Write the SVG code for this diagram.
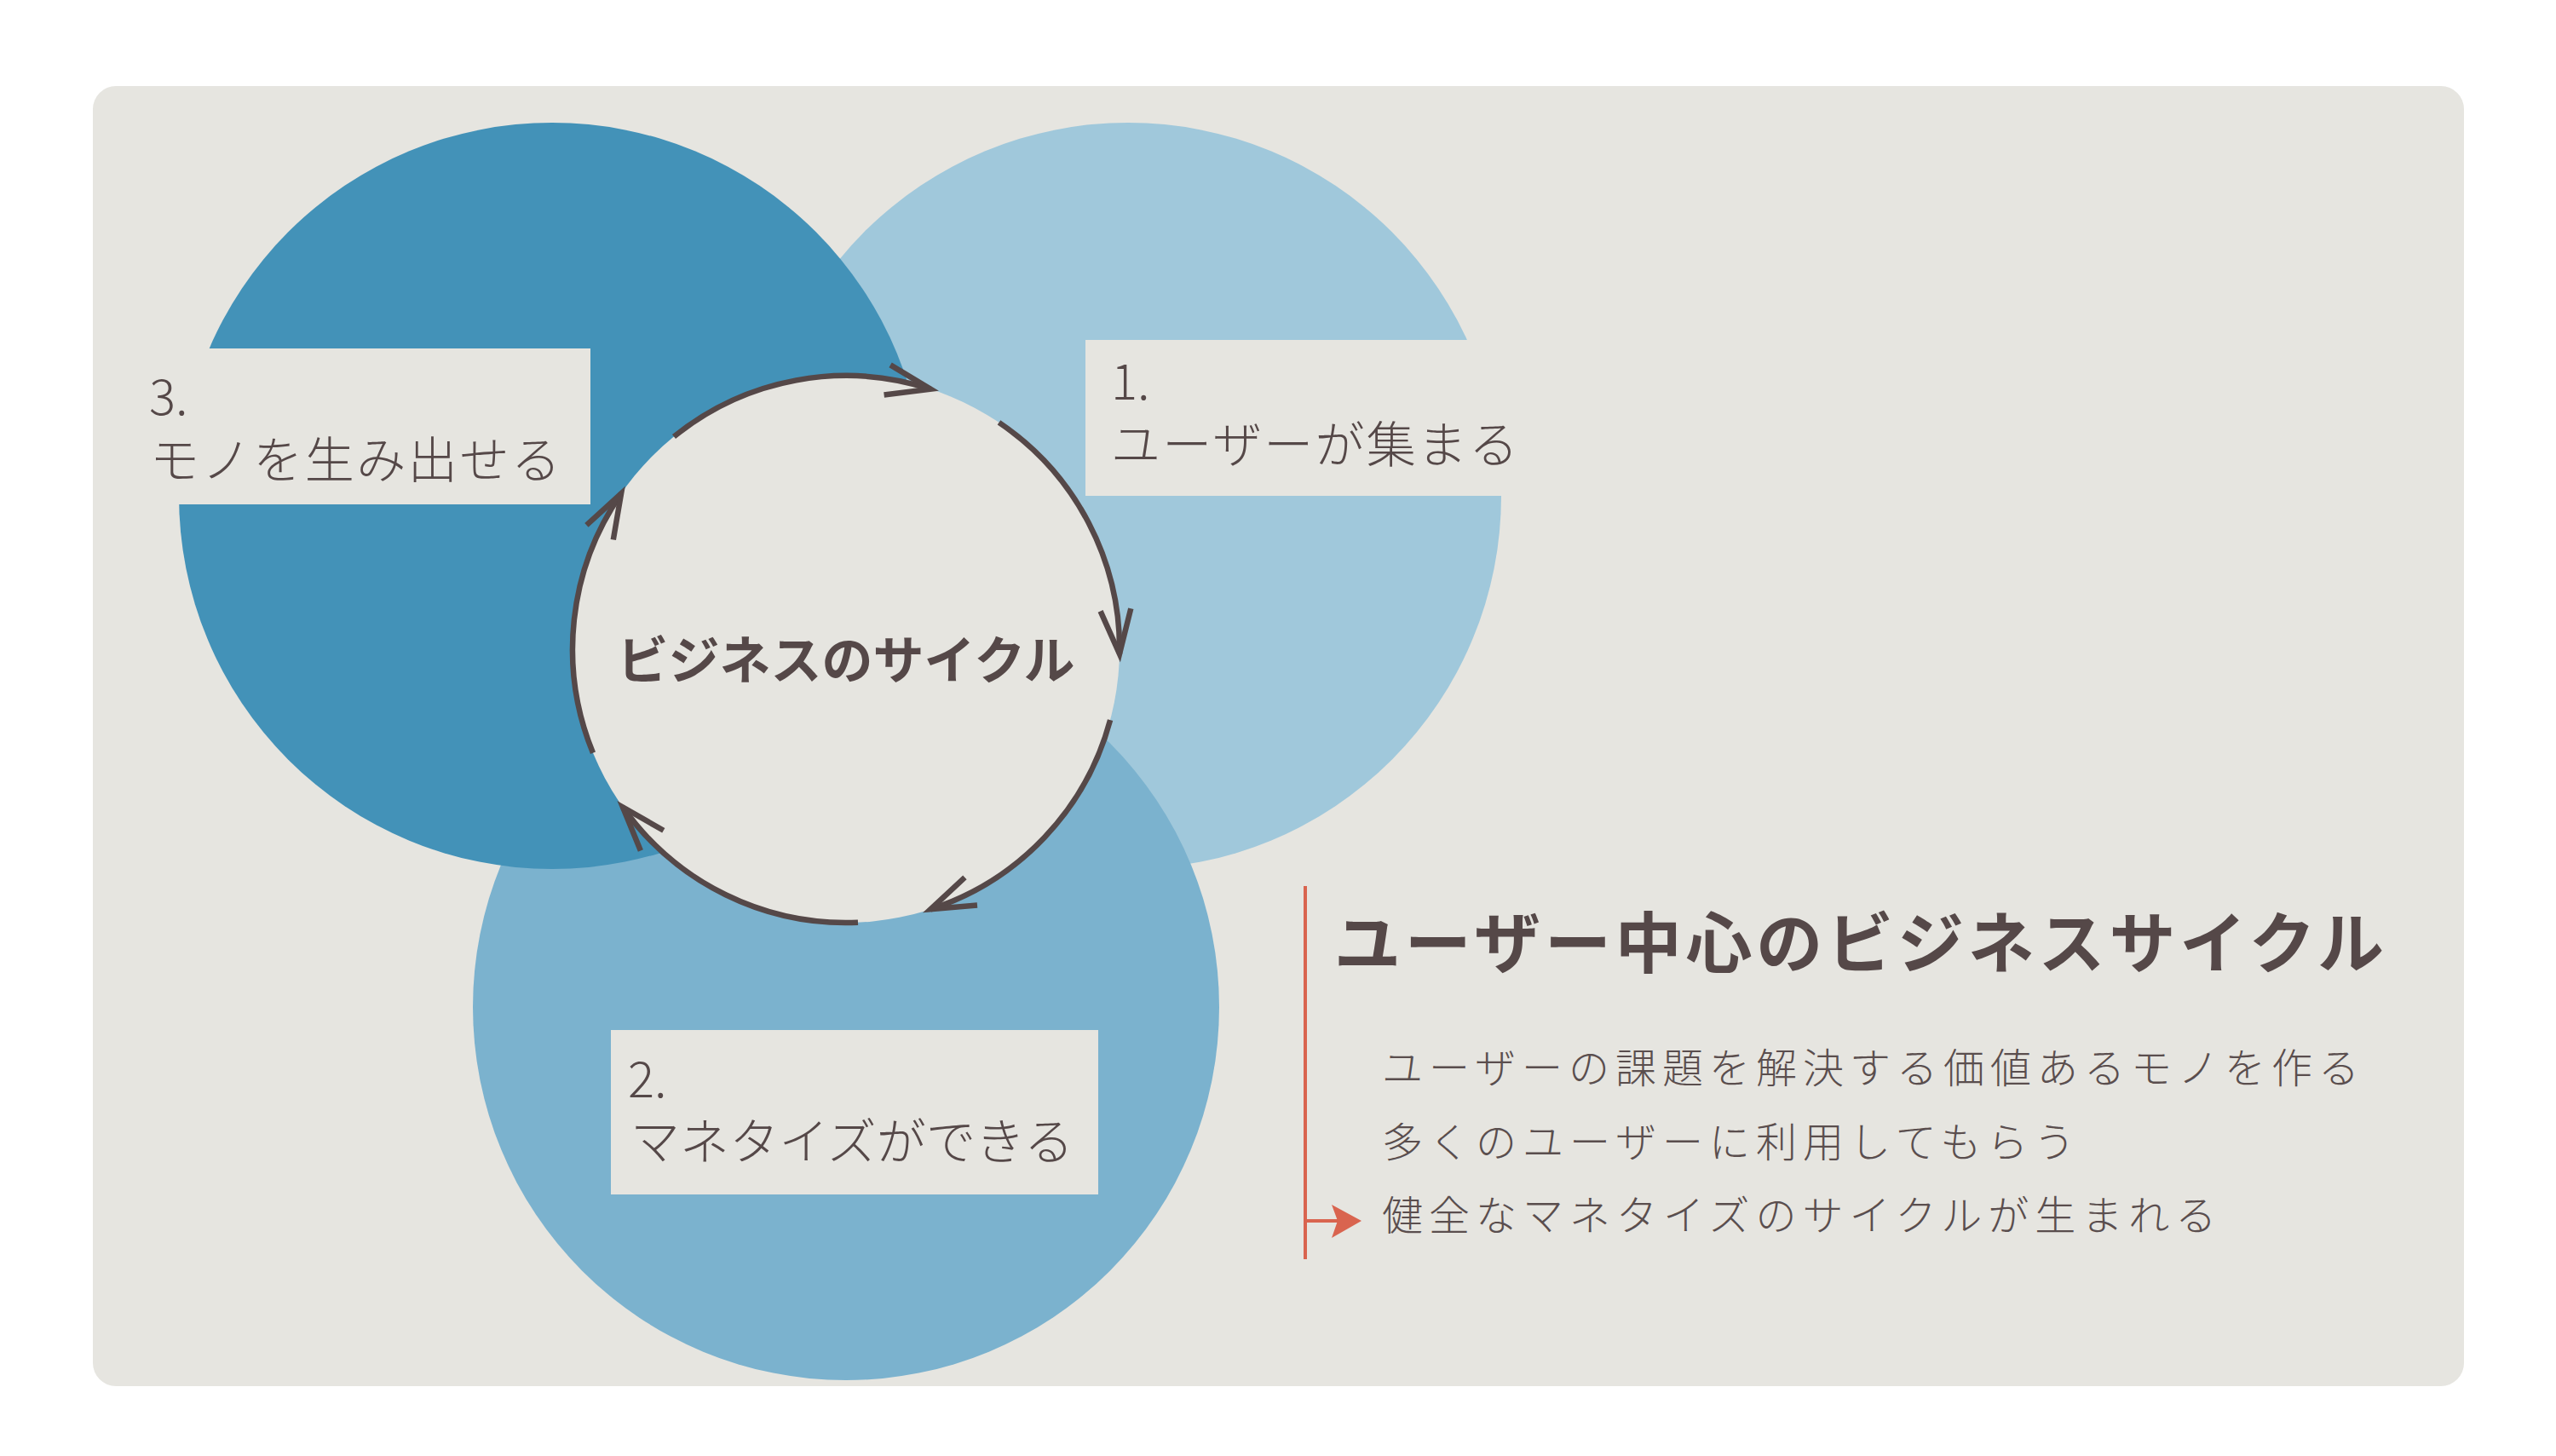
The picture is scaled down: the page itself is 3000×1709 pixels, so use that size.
<svg xmlns="http://www.w3.org/2000/svg" width="3000" height="1709" viewBox="0 0 3000 1709">
  <defs>
    <style>
      .bg { fill: #e6e5e0; }
      .lbl { font-family: "Noto Sans CJK JP", "Noto Sans", sans-serif; font-weight: 300; font-size: 58px; fill: #554848; }
      .ctr { font-family: "Noto Sans CJK JP", "Noto Sans", sans-serif; font-weight: 700; font-size: 60px; fill: #554848; }
      .ttl { font-family: "Noto Sans CJK JP", "Noto Sans", sans-serif; font-weight: 700; font-size: 78px; fill: #554848; }
      .body { font-family: "Noto Sans CJK JP", "Noto Sans", sans-serif; font-weight: 300; font-size: 48px; fill: #5a4e4e; letter-spacing: 7px; }
      .arc { fill: none; stroke: #554848; stroke-width: 6.5; stroke-linecap: butt; stroke-linejoin: miter; }
      .accent { stroke: #d9644f; stroke-width: 4; fill: none; }
    </style>
  </defs>

  <rect id="panel" class="bg" x="109" y="101" width="2783" height="1526" rx="27" ry="27"/>

  <g id="node-1">
    <circle cx="1324" cy="582" r="438" fill="#a0c8db"/>
    <rect class="bg" x="1274" y="399" width="526" height="183"/>
    <text class="lbl" x="1304" y="469">1.</text>
    <text class="lbl" x="1304" y="543" textLength="478">ユーザーが集まる</text>
  </g>

  <g id="node-2">
    <circle cx="993" cy="1182" r="438" fill="#7bb2ce"/>
    <rect class="bg" x="717" y="1209" width="572" height="193"/>
    <text class="lbl" x="737" y="1288">2.</text>
    <text class="lbl" x="740" y="1361" textLength="520">マネタイズができる</text>
  </g>

  <g id="node-3">
    <circle cx="648" cy="582" r="438" fill="#4392b8"/>
    <rect class="bg" x="160" y="409" width="533" height="183"/>
    <text class="lbl" x="175" y="487">3.</text>
    <text class="lbl" x="176" y="561" textLength="482">モノを生み出せる</text>
  </g>

  <g id="center">
    <circle class="bg" cx="993" cy="762" r="321"/>
    <text class="ctr" x="993" y="797" text-anchor="middle">ビジネスのサイクル</text>
  </g>

  <g id="connectors">
    <path class="arc" d="M791.0 512.5 A321 321 0 0 1 1092.2 456.7"/>
    <polyline class="arc" points="1045.1,428.4 1092.2,456.7 1037.6,463.4"/>
    <path class="arc" d="M1172.5 495.9 A321 321 0 0 1 1314.0 767.6"/>
    <polyline class="arc" points="1291.6,717.4 1314.0,767.6 1327.3,714.2"/>
    <path class="arc" d="M1303.1 845.1 A321 321 0 0 1 1092.2 1067.3"/>
    <polyline class="arc" points="1132.4,1029.8 1092.2,1067.3 1147.0,1062.5"/>
    <path class="arc" d="M1007.0 1082.7 A321 321 0 0 1 731.0 947.5"/>
    <polyline class="arc" points="778.8,974.8 731.0,947.5 751.9,998.4"/>
    <path class="arc" d="M696.0 883.8 A321 321 0 0 1 729.1 579.3"/>
    <polyline class="arc" points="719.8,633.5 729.1,579.3 688.4,616.3"/>
  </g>

  <g id="summary">
    <text class="ttl" x="1566" y="1136" textLength="1232">ユーザー中心のビジネスサイクル</text>
    <line class="accent" x1="1532" y1="1040" x2="1532" y2="1478"/>
    <line class="accent" x1="1532" y1="1433" x2="1572" y2="1433"/>
    <polygon points="1563,1414 1598,1433 1563,1453 1570,1433" fill="#d9644f"/>
    <text class="body" x="1622" y="1271">ユーザーの課題を解決する価値あるモノを作る</text>
    <text class="body" x="1622" y="1358">多くのユーザーに利用してもらう</text>
    <text class="body" x="1622" y="1444">健全なマネタイズのサイクルが生まれる</text>
  </g>
</svg>
